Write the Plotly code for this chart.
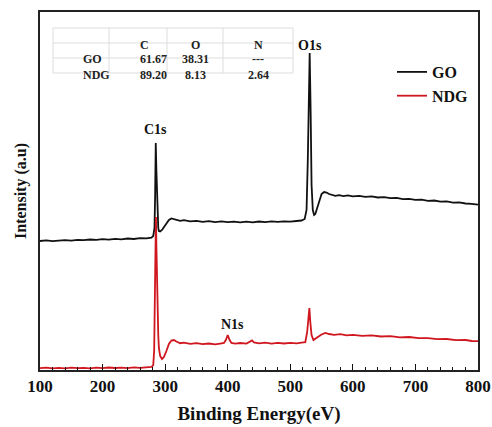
import plotly.graph_objects as go

# ---- data (binding energy in eV, intensity in arbitrary units) ----
go_ev = [100,110,120,130,140,150,160,170,180,190,200,210,220,230,240,250,260,270,278,281,283,284,285,286,287,288,289,290,292,295,298,302,306,310,314,318,324,330,340,350,360,370,380,390,400,410,420,430,440,450,460,470,480,490,500,510,518,523,526,528,529.5,531,532.5,534,536,538,540,543,546,550,554,558,562,567,572,578,585,592,600,610,620,630,640,650,660,670,680,690,700,710,720,730,740,750,760,770,780,790,800]
go_int = [129.0,129.6,128.8,129.4,129.9,129.3,130.2,129.8,130.5,130.1,130.8,130.4,131.2,130.7,131.5,131.0,131.8,131.6,132.4,134,142,175,227,200,168,150,142,139,138.5,140,143,147,150,151.5,151,150,149.2,149.8,148.6,149.2,148.2,148.8,147.9,148.6,147.8,148.4,147.6,148.3,147.7,148.5,147.8,148.6,148.1,148.7,148.3,149.0,149.5,151,160,210,290,317,260,185,160,155,156,162,170,176,178,177.5,176,175,174.2,174.8,173.9,174.6,173.7,174.2,173.1,173.6,172.5,172.9,171.8,172.2,170.9,171.2,170.1,170.4,169.2,169.5,168.3,168.6,167.4,167.7,166.5,166.2,165.3]

ndg_ev = [100,110,120,130,140,150,160,170,180,190,200,210,220,230,240,250,260,270,278,281,282.5,283.5,284.5,285.3,286,287,288,289,290,292,295,298,302,306,310,314,318,324,330,340,350,360,370,380,388,394,397,400,403,406,412,420,430,436,439,442,450,460,470,480,490,500,510,518,524,527,529,530.5,532,534,537,540,544,550,556,562,570,580,590,600,615,630,645,660,675,690,705,720,735,750,765,780,790,800]
ndg_int = [1.8,2.3,1.6,2.1,1.7,2.4,1.9,2.2,1.6,2.3,1.8,2.5,2.0,2.4,1.9,2.6,2.2,2.7,3.0,5,20,70,130,153,125,85,55,35,22,14,11,13,19,26,29.5,30,28.5,26.8,27.4,26.2,26.9,25.8,26.5,25.7,26.4,27,30,35,30,27,26.3,27.0,26.4,28,29.5,27.5,26.7,27.3,26.4,27.1,26.5,27.2,26.6,27.3,27.8,38,55,62,48,35,30,31,33,35.5,37,36,35.2,35.8,34.6,35.1,34.2,34.6,33.5,33.8,32.7,33.0,31.8,31.9,30.8,31.0,29.9,30.0,29.0,28.8]

peak_names = ["C1s", "O1s", "N1s"]
peak_ev = [285, 531, 407]
peak_label_y = [241, 325, 46]

table_header = ["", "C", "O", "N"]
table_rows = [["GO", "61.67", "38.31", "---"],
              ["NDG", "89.20", "8.13", "2.64"]]

x_ticks = [100, 200, 300, 400, 500, 600, 700, 800]

# ---- figure ----
W, H = 492, 427
ML, MR, MT, MB = 40, 14, 12, 57
PW, PH = W - ML - MR, H - MT - MB
SERIF = "Liberation Serif"

def px(xp):
    return (xp - ML) / PW

def py(yp):
    return (H - MB - yp) / PH

fig = go.Figure()
fig.add_trace(go.Scatter(x=go_ev, y=go_int, mode="lines", name="GO",
                         line=dict(color="#111111", width=1.8)))
fig.add_trace(go.Scatter(x=ndg_ev, y=ndg_int, mode="lines", name="NDG",
                         line=dict(color="#d0161e", width=1.8)))

for name, xe, ye in zip(peak_names, peak_ev, peak_label_y):
    fig.add_annotation(x=xe, y=ye, xref="x", yref="y", text="<b>%s</b>" % name,
                       showarrow=False, font=dict(family=SERIF, size=14, color="#111"))

# table
col_edges = [53, 109, 167, 223, 293]
row_edges = [28, 43, 58, 73]
shapes = []
for xe in col_edges:
    shapes.append(dict(type="line", xref="paper", yref="paper",
                       x0=px(xe), x1=px(xe), y0=py(row_edges[0]), y1=py(row_edges[-1]),
                       line=dict(color="#dddddd", width=1)))
for ye in row_edges:
    shapes.append(dict(type="line", xref="paper", yref="paper",
                       x0=px(col_edges[0]), x1=px(col_edges[-1]), y0=py(ye), y1=py(ye),
                       line=dict(color="#dddddd", width=1)))
all_rows = [table_header] + table_rows
for r, row in enumerate(all_rows):
    yc = (row_edges[r] + row_edges[r + 1]) / 2
    for c, cell in enumerate(row):
        if not cell:
            continue
        xc = (col_edges[c] + col_edges[c + 1]) / 2
        fig.add_annotation(x=px(xc), y=py(yc), xref="paper", yref="paper",
                           text="<b>%s</b>" % cell, showarrow=False,
                           font=dict(family=SERIF, size=12, color="#222"))

fig.update_layout(
    width=W, height=H,
    margin=dict(l=ML, r=MR, t=MT, b=MB, autoexpand=False),
    paper_bgcolor="white", plot_bgcolor="white",
    shapes=shapes,
    showlegend=True,
    legend=dict(x=px(392), y=py(55), xanchor="left", yanchor="top",
                bgcolor="rgba(0,0,0,0)", borderwidth=0,
                font=dict(family=SERIF, size=16, color="#111", weight="bold"),
                tracegroupgap=0),
    xaxis=dict(range=[100, 800], tickvals=x_ticks, ticks="inside", ticklen=6,
               tickwidth=1.2, tickcolor="#111",
               minor=dict(dtick=20, ticks="inside", ticklen=3, tickcolor="#111", tickwidth=1),
               showline=True, linecolor="#222", linewidth=1.6, mirror=True,
               showgrid=False, zeroline=False,
               tickfont=dict(family=SERIF, size=17, color="#111", weight="bold"),
               title=dict(text="Binding Energy(eV)", standoff=11,
                          font=dict(family=SERIF, size=19, color="#111", weight="bold"))),
    yaxis=dict(range=[0, 358], showticklabels=False, ticks="",
               showline=True, linecolor="#222", linewidth=1.6, mirror=True,
               showgrid=False, zeroline=False,
               title=dict(text="Intensity (a.u)", standoff=8,
                          font=dict(family=SERIF, size=16, color="#111", weight="bold"))),
)

fig.write_html("out.html")
